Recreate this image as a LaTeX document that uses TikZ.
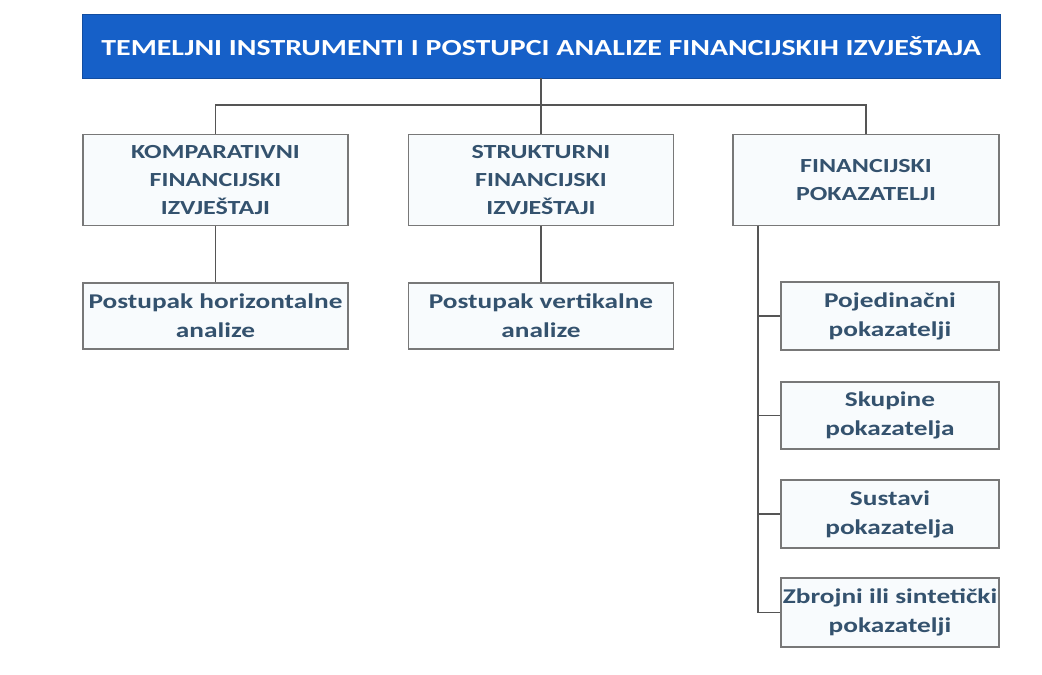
\documentclass[tikz,border=0pt]{standalone}
\usepackage{fontspec}
\setmainfont{Carlito}
\newfontfamily\widefont[FakeStretch=1.3]{Carlito}
\definecolor{barblue}{RGB}{22,96,200}
\definecolor{txtc}{RGB}{52,82,110}
\definecolor{boxline}{RGB}{120,120,120}
\definecolor{boxfill}{RGB}{248,251,253}
\definecolor{linec}{RGB}{85,85,85}
\begin{document}
\begin{tikzpicture}[x=1pt,y=-1pt,
  titlebox/.style={fill=barblue,draw=barblue!80!black,line width=0.8pt,text=white,font=\widefont\bfseries\fontsize{23}{28}\selectfont,minimum width=918pt,minimum height=64pt,inner sep=0pt},
  mainbox/.style={draw=boxline,fill=boxfill,line width=1.4pt,text=txtc,font=\widefont\bfseries\fontsize{20}{28}\selectfont,align=center,minimum height=91pt,inner sep=0pt},
  subbox/.style={draw=boxline,fill=boxfill,line width=1.4pt,text=txtc,font=\widefont\bfseries\fontsize{21}{29}\selectfont,align=center,inner sep=0pt},
  conn/.style={draw=linec,line width=1.3pt}]
\useasboundingbox[fill=white] (0,0) rectangle (1042,675);
\node[titlebox] (title) at (541,46) {TEMELJNI INSTRUMENTI I POSTUPCI ANALIZE FINANCIJSKIH IZVJEŠTAJA};
\node[mainbox,minimum width=265pt] (k1) at (215.5,180) {KOMPARATIVNI\\FINANCIJSKI\\IZVJEŠTAJI};
\node[mainbox,minimum width=265pt] (k2) at (541,180) {STRUKTURNI\\FINANCIJSKI\\IZVJEŠTAJI};
\node[mainbox,minimum width=266pt] (k3) at (866,180) {FINANCIJSKI\\POKAZATELJI};
\node[subbox,minimum width=265pt,minimum height=66pt] (p1) at (215.5,316) {Postupak horizontalne\\analize};
\node[subbox,minimum width=265pt,minimum height=66pt] (p2) at (541,316) {Postupak vertikalne\\analize};
\node[subbox,minimum width=218pt,minimum height=68pt] (s1) at (890,316) {Pojedinačni\\pokazatelji};
\node[subbox,minimum width=218pt,minimum height=67pt] (s2) at (890,415.5) {Skupine\\pokazatelja};
\node[subbox,minimum width=218pt,minimum height=68pt] (s3) at (890,514) {Sustavi\\pokazatelja};
\node[subbox,minimum width=218pt,minimum height=69pt] (s4) at (890,612.5) {Zbrojni ili sintetički\\pokazatelji};
\coordinate (hub) at (541,105);
\coordinate (trunk) at (758,225.5);
\draw[conn] (title.south) -- (hub);
\draw[conn] (k1.north) |- (hub) -| (k3.north);
\draw[conn] (hub) -- (k2.north);
\draw[conn] (k1.south) -- (p1.north);
\draw[conn] (k2.south) -- (p2.north);
\draw[conn] (trunk) |- (s4.west);
\draw[conn] (trunk |- s1.west) -- (s1.west);
\draw[conn] (trunk |- s2.west) -- (s2.west);
\draw[conn] (trunk |- s3.west) -- (s3.west);
\end{tikzpicture}
\end{document}
